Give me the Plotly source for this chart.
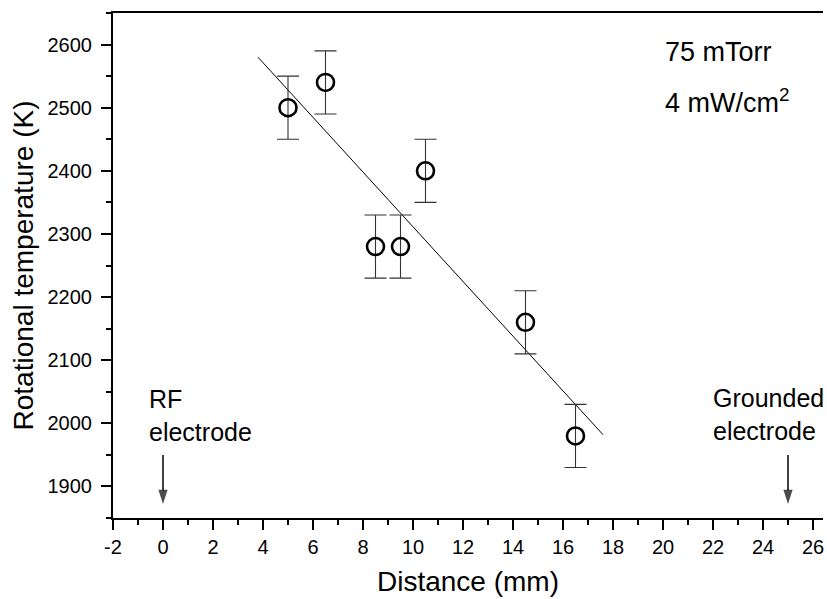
import plotly.graph_objects as go

# Data
distance_mm = [5, 6.5, 8.5, 9.5, 10.5, 14.5, 16.5]
rot_temp_K = [2500, 2540, 2280, 2280, 2400, 2160, 1980]
temp_err_K = [50, 50, 50, 50, 50, 50, 50]

fit_x = [3.8, 17.6]
fit_y = [2580, 1982]

# electrode marker arrows (x position, arrow start, arrow tip)
electrode_x = [0, 25]
arrow_top = 1950
arrow_tip = 1872

x_ticks = list(range(-2, 27, 2))
y_ticks = list(range(1900, 2601, 100))

FONT = "Liberation Sans, Arial, Helvetica, sans-serif"

fig = go.Figure()

fig.add_trace(go.Scatter(
    x=fit_x, y=fit_y, mode="lines",
    line=dict(color="black", width=1), showlegend=False, hoverinfo="skip"))

fig.add_trace(go.Scatter(
    x=distance_mm, y=rot_temp_K, mode="markers",
    marker=dict(symbol="circle-open", size=17, color="black",
                line=dict(width=2.6, color="black")),
    error_y=dict(type="data", array=temp_err_K, visible=True,
                 color="#333333", thickness=1.1, width=11),
    showlegend=False))

for ex in electrode_x:
    fig.add_trace(go.Scatter(
        x=[ex, ex], y=[arrow_top, arrow_tip], mode="lines+markers",
        line=dict(color="black", width=1.5),
        marker=dict(symbol=["line-ew", "arrow"], size=[0, 15], angleref="previous",
                    color="black", line=dict(width=0)),
        showlegend=False, hoverinfo="skip"))

annos = [
    dict(x=20, y=2589, text="75 mTorr", xanchor="left", yanchor="middle",
         showarrow=False, font=dict(size=27)),
    dict(x=20, y=2510, text="4 mW/cm<sup>2</sup>", xanchor="left", yanchor="middle",
         showarrow=False, font=dict(size=27)),
    dict(x=-0.65, y=2012, text="RF<br>electrode", xanchor="left", yanchor="middle",
         align="left", showarrow=False, font=dict(size=25)),
    dict(x=21.9, y=2014, text="Grounded<br>electrode", xanchor="left", yanchor="middle",
         align="left", showarrow=False, font=dict(size=25)),
]
fig.update_layout(annotations=annos)

fig.update_layout(
    width=827, height=599,
    margin=dict(l=113, r=4, t=13, b=81),
    paper_bgcolor="white", plot_bgcolor="white",
    font=dict(family=FONT, color="black", size=20),
)

fig.update_xaxes(
    range=[-2, 26.4], tickvals=x_ticks, ticktext=[str(v) for v in x_ticks],
    showgrid=False, zeroline=False,
    showline=True, linecolor="black", linewidth=2, mirror=True,
    ticks="outside", ticklen=10, tickwidth=1.5, tickcolor="black",
    minor=dict(dtick=1, tick0=0, ticks="outside", ticklen=5, tickwidth=1.5,
               tickcolor="black", showgrid=False),
    tickfont=dict(size=20),
    title=dict(text="Distance (mm)", font=dict(size=28), standoff=14),
)
fig.update_yaxes(
    range=[1850, 2650], tickvals=y_ticks, ticktext=[str(v) for v in y_ticks],
    showgrid=False, zeroline=False,
    showline=True, linecolor="black", linewidth=2, mirror=False,
    ticks="outside", ticklen=10, tickwidth=1.5, tickcolor="black",
    minor=dict(dtick=50, tick0=1850, ticks="outside", ticklen=5, tickwidth=1.5,
               tickcolor="black", showgrid=False),
    tickfont=dict(size=20), ticklabelstandoff=5,
    title=dict(text="Rotational temperature (K)", font=dict(size=28), standoff=6),
)

fig.write_html("out.html")
